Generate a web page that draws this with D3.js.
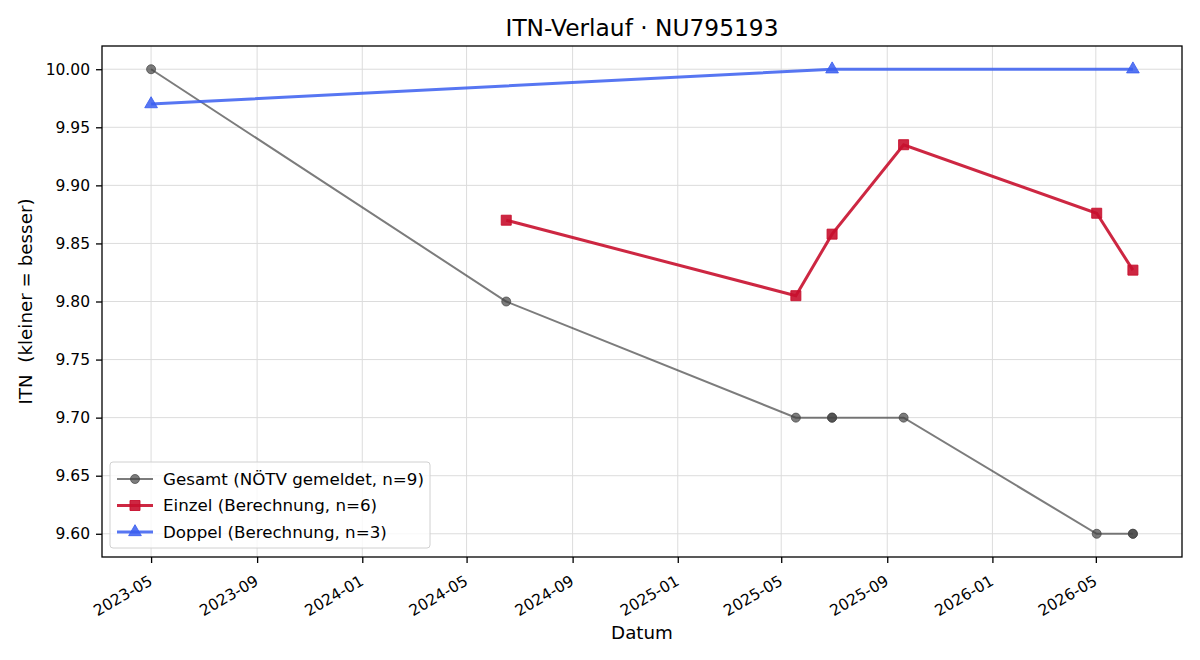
<!DOCTYPE html>
<html>
<head>
<meta charset="utf-8">
<script src="https://cdn.jsdelivr.net/npm/d3@7"></script>
<style>
  body { margin: 0; background: #fff; }
  svg { font-family: "DejaVu Sans", sans-serif; }
</style>
</head>
<body>
<div id="chart"></div>
<script>
// data
var gesamtDates = ["2023-05-01", "2024-06-16", "2025-05-18", "2025-06-29", "2025-06-29", "2025-09-20", "2026-05-02", "2026-06-13", "2026-06-13"];
var gesamtValues = [10.00, 9.80, 9.70, 9.70, 9.70, 9.70, 9.60, 9.60, 9.60];

var einzelDates = ["2024-06-16", "2025-05-18", "2025-06-29", "2025-09-20", "2026-05-02", "2026-06-13"];
var einzelValues = [9.87, 9.805, 9.858, 9.935, 9.876, 9.827];

var doppelDates = ["2023-05-01", "2025-06-29", "2026-06-13"];
var doppelValues = [9.97, 10.00, 10.00];

var yTicks = [9.60, 9.65, 9.70, 9.75, 9.80, 9.85, 9.90, 9.95, 10.00];

var parseDate = d3.timeParse("%Y-%m-%d");

function zip(dates, values) {
    return dates.map(function (d, i) { return { date: parseDate(d), value: values[i] }; });
}

var series = [
    { name: "Gesamt (NÖTV gemeldet, n=9)", data: zip(gesamtDates, gesamtValues), color: "#444444", opacity: 0.7, width: 2, marker: "circle" },
    { name: "Einzel (Berechnung, n=6)", data: zip(einzelDates, einzelValues), color: "#c8102e", opacity: 0.9, width: 3, marker: "square" },
    { name: "Doppel (Berechnung, n=3)", data: zip(doppelDates, doppelValues), color: "#3a5ef0", opacity: 0.85, width: 3, marker: "triangle" }
];

// set the dimensions and margins of the graph
var margin = { top: 46, right: 18, bottom: 103, left: 102 },
    width = 1200 - margin.left - margin.right,
    height = 660 - margin.top - margin.bottom;

var root = d3.select("#chart")
    .append("svg")
    .attr("width", 1200)
    .attr("height", 660);

var svg = root.append("g")
    .attr("transform", "translate(" + margin.left + "," + margin.top + ")");

// x scale with matplotlib style 5% padding
var allDates = [].concat(series[0].data, series[1].data, series[2].data).map(function (d) { return d.date; });
var ext = d3.extent(allDates);
var pad = (ext[1] - ext[0]) * 0.05;
var x = d3.scaleTime()
    .domain([new Date(+ext[0] - pad), new Date(+ext[1] + pad)])
    .range([0, width]);

var y = d3.scaleLinear()
    .domain([9.58, 10.02])
    .range([height, 0]);

var xTicks = x.ticks(d3.timeMonth.every(4));

// grid
svg.append("g")
    .selectAll("line")
    .data(xTicks)
    .enter().append("line")
    .attr("x1", function (d) { return x(d); })
    .attr("x2", function (d) { return x(d); })
    .attr("y1", 0).attr("y2", height)
    .attr("stroke", "#dcdcdc")
    .attr("stroke-width", 1);

svg.append("g")
    .selectAll("line")
    .data(yTicks)
    .enter().append("line")
    .attr("x1", 0).attr("x2", width)
    .attr("y1", function (d) { return y(d); })
    .attr("y2", function (d) { return y(d); })
    .attr("stroke", "#dcdcdc")
    .attr("stroke-width", 1);

// axes
var xAxis = svg.append("g")
    .attr("transform", "translate(0," + height + ")")
    .call(d3.axisBottom(x).tickValues(xTicks).tickFormat(d3.timeFormat("%Y-%m")).tickSizeOuter(0).tickSize(6));
xAxis.attr("font-family", "DejaVu Sans").attr("font-size", null);
xAxis.select(".domain").remove();
xAxis.selectAll("line").attr("stroke-width", 1.3);
xAxis.selectAll("text")
    .style("font-size", "15.5px")
    .attr("fill", "#000")
    .attr("text-anchor", "end")
    .attr("x", 0).attr("y", 0)
    .attr("dx", 0).attr("dy", 0)
    .attr("transform", "translate(2,27) rotate(-30)");

var yAxis = svg.append("g")
    .call(d3.axisLeft(y).tickValues(yTicks).tickFormat(d3.format(".2f")).tickSizeOuter(0).tickSize(6));
yAxis.attr("font-family", "DejaVu Sans").attr("font-size", null);
yAxis.select(".domain").remove();
yAxis.selectAll("line").attr("stroke-width", 1.3);
yAxis.selectAll("text")
    .style("font-size", "15.5px")
    .attr("x", -12)
    .attr("fill", "#000");

svg.append("rect")
    .attr("width", width)
    .attr("height", height)
    .attr("fill", "none")
    .attr("stroke", "#000")
    .attr("stroke-width", 1.3);

// lines and markers
var line = d3.line()
    .x(function (d) { return x(d.date); })
    .y(function (d) { return y(d.value); });

var symbols = { circle: d3.symbolCircle, square: d3.symbolSquare, triangle: d3.symbolTriangle };
var symbolSize = { circle: 64, square: 100, triangle: 70 };

series.forEach(function (s) {
    svg.append("path")
        .datum(s.data)
        .attr("fill", "none")
        .attr("stroke", s.color)
        .attr("stroke-opacity", s.opacity)
        .attr("stroke-width", s.width)
        .attr("d", line);

    svg.append("g")
        .selectAll("path")
        .data(s.data)
        .enter().append("path")
        .attr("d", d3.symbol().type(symbols[s.marker]).size(symbolSize[s.marker]))
        .attr("transform", function (d) { return "translate(" + x(d.date) + "," + y(d.value) + ")"; })
        .attr("fill", s.color)
        .attr("fill-opacity", s.opacity)
        .attr("stroke", s.color)
        .attr("stroke-opacity", s.opacity)
        .attr("stroke-width", 1);
});

// title and axis labels
root.append("text")
    .text("ITN-Verlauf · NU795193")
    .attr("x", margin.left + width / 2)
    .attr("y", 36)
    .attr("text-anchor", "middle")
    .attr("font-size", "23.3px");

root.append("text")
    .text("Datum")
    .attr("x", margin.left + width / 2)
    .attr("y", 639)
    .attr("text-anchor", "middle")
    .attr("font-size", "18.3px");

root.append("text")
    .text("ITN  (kleiner = besser)")
    .attr("transform", "translate(32," + (margin.top + height / 2) + ") rotate(-90)")
    .attr("text-anchor", "middle")
    .style("white-space", "pre")
    .attr("font-size", "18.3px");

// legend
var legend = svg.append("g")
    .attr("transform", "translate(8," + (height - 95) + ")");

legend.append("rect")
    .attr("width", 320)
    .attr("height", 86)
    .attr("rx", 3)
    .attr("fill", "#fff")
    .attr("fill-opacity", 0.8)
    .attr("stroke", "#d0d0d0");

series.forEach(function (s, i) {
    var g = legend.append("g")
        .attr("transform", "translate(7," + (17 + i * 26.5) + ")");
    g.append("line")
        .attr("x1", 0).attr("x2", 36)
        .attr("stroke", s.color)
        .attr("stroke-opacity", s.opacity)
        .attr("stroke-width", s.width);
    g.append("path")
        .attr("d", d3.symbol().type(symbols[s.marker]).size(symbolSize[s.marker]))
        .attr("transform", "translate(18,0)")
        .attr("fill", s.color)
        .attr("fill-opacity", s.opacity)
        .attr("stroke", s.color)
        .attr("stroke-opacity", s.opacity);
    g.append("text")
        .text(s.name)
        .attr("x", 46)
        .attr("dy", "0.35em")
        .attr("font-size", "16.7px");
});
</script>
</body>
</html>
